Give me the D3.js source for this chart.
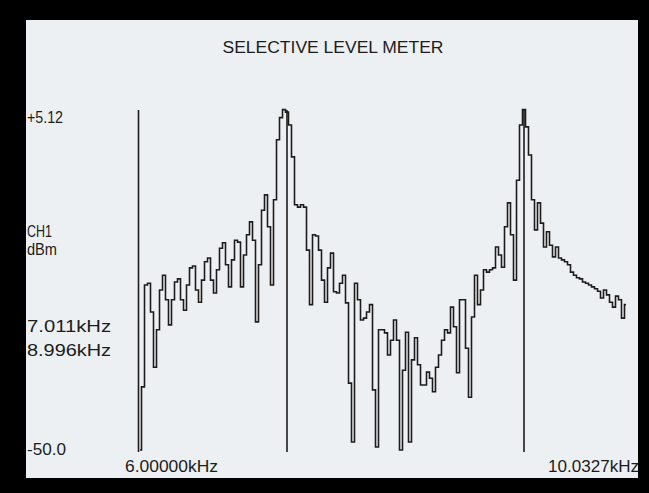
<!DOCTYPE html>
<html lang="en">
<head>
    <meta charset="UTF-8">
    <title>Selective Level Meter</title>
    <script src="https://d3js.org/d3.v7.min.js"></script>
    <style>
        body {
            margin: 0;
            padding: 0;
            background-color: #000;
            overflow: hidden;
        }
        svg text {
            font-family: "Liberation Sans", Arial, sans-serif;
            fill: #1c1c1c;
        }
    </style>
</head>
<body>
    <div id="chart"></div>

    <script>
        // level readings (dBm), one per sweep step, 6.00000kHz -> 10.0327kHz
        const levels = [
            -50.0, -39.7, -23.1, -22.8, -27.5, -36.5, -30.4, -23.9, -21.5, -25.5,
            -29.6, -25.5, -22.6, -22.1, -25.5, -27.2, -23.1, -20.3, -20.0, -23.9,
            -25.9, -22.3, -19.3, -18.7, -22.3, -24.4, -20.6, -17.1, -16.2, -19.8,
            -23.4, -19.0, -15.8, -16.1, -23.4, -18.2, -14.9, -12.8, -15.8, -29.1,
            -19.8, -10.9, -8.4, -13.6, -23.1, -9.2, 0.6, 4.2, 5.5, 5.1,
            3.0, -2.2, -10.0, -10.4, -10.0, -10.4, -17.4, -26.3, -14.9, -15.1,
            -17.4, -22.3, -25.9, -20.3, -17.9, -24.2, -24.4, -22.8, -21.5, -26.0,
            -39.1, -48.7, -22.8, -25.5, -28.8, -28.5, -27.5, -26.3, -40.2, -49.5,
            -30.4, -30.4, -30.9, -34.5, -32.1, -28.8, -32.1, -50.0, -37.0, -30.8,
            -48.7, -35.3, -31.7, -36.1, -39.4, -39.4, -37.3, -38.3, -40.5, -36.5,
            -34.5, -32.1, -30.4, -30.9, -26.7, -29.9, -37.4, -25.5, -25.5, -33.4,
            -41.4, -28.3, -21.5, -26.3, -23.9, -20.6, -21.0, -20.6, -20.3, -16.9,
            -18.2, -20.2, -13.6, -9.7, -14.9, -22.3, -6.0, 3.0, 5.5, 2.7,
            -1.9, -9.2, -14.1, -9.7, -13.0, -16.9, -14.4, -16.6, -18.5, -16.9,
            -18.7, -19.0, -19.3, -19.8, -21.0, -21.5, -21.9, -22.1, -22.6, -22.8,
            -23.1, -23.4, -23.7, -24.1, -25.2, -23.9, -24.7, -25.9, -26.7, -24.9,
            -25.5, -28.5, -26.3
        ];

        // sweep steps where the two markers sit
        const markerSteps = [49, 128];
        const markerLabels = ["7.011kHz", "8.996kHz"];

        const levelRange = [-50.0, 5.12];
        const levelLabels = ["-50.0", "+5.12"];
        const unitLabels = ["CH1", "dBm"];
        const startLabel = "6.00000kHz";
        const stopLabel = "10.0327kHz";
        const title = "SELECTIVE LEVEL METER";

        const width = 649;
        const height = 493;

        const svg = d3.select("#chart")
            .append("svg")
            .attr("width", width)
            .attr("height", height);

        // screen face
        svg.append("rect")
            .attr("x", 26)
            .attr("y", 20)
            .attr("width", 612)
            .attr("height", 458)
            .attr("fill", "#edf0f2");

        const x = d3.scaleLinear()
            .domain([0, levels.length - 1])
            .range([140, 626]);

        const y = d3.scaleLinear()
            .domain(levelRange)
            .range([450, 112]);

        const lineTop = y(levelRange[1]) - 2;
        const lineBottom = y(levelRange[0]) + 2;

        // left edge of the trace window
        svg.append("line")
            .attr("x1", x(0) - 1.5).attr("x2", x(0) - 1.5)
            .attr("y1", lineTop).attr("y2", lineBottom)
            .attr("stroke", "#1c1c1c")
            .attr("stroke-width", 1.6);

        // marker lines
        svg.selectAll(".marker")
            .data(markerSteps)
            .join("line")
            .attr("class", "marker")
            .attr("x1", d => x(d)).attr("x2", d => x(d))
            .attr("y1", lineTop).attr("y2", lineBottom)
            .attr("stroke", "#1c1c1c")
            .attr("stroke-width", 1.6);

        // trace
        const line = d3.line()
            .x((d, i) => x(i))
            .y(d => y(d))
            .curve(d3.curveStep);

        svg.append("path")
            .datum(levels)
            .attr("d", line)
            .attr("fill", "none")
            .attr("stroke", "#1c1c1c")
            .attr("stroke-width", 1.6)
            .attr("stroke-linejoin", "miter");

        // title
        svg.append("text")
            .attr("x", 333)
            .attr("y", 53)
            .attr("text-anchor", "middle")
            .attr("textLength", 221)
            .attr("lengthAdjust", "spacingAndGlyphs")
            .style("font-size", "16px")
            .text(title);

        // level labels
        svg.append("text")
            .attr("x", 27)
            .attr("y", y(levelRange[1]) + 11)
            .attr("textLength", 36)
            .attr("lengthAdjust", "spacingAndGlyphs")
            .style("font-size", "16px")
            .text(levelLabels[1]);

        svg.append("text")
            .attr("x", 27)
            .attr("y", y(levelRange[0]) + 5)
            .attr("textLength", 39)
            .attr("lengthAdjust", "spacingAndGlyphs")
            .style("font-size", "16px")
            .text(levelLabels[0]);

        // channel and unit
        svg.selectAll(".unit")
            .data(unitLabels)
            .join("text")
            .attr("class", "unit")
            .attr("x", 27)
            .attr("y", (d, i) => 237 + i * 18)
            .attr("textLength", (d, i) => [25, 30][i])
            .attr("lengthAdjust", "spacingAndGlyphs")
            .style("font-size", "16px")
            .text(d => d);

        // marker frequency readouts
        svg.selectAll(".mlabel")
            .data(markerLabels)
            .join("text")
            .attr("class", "mlabel")
            .attr("x", 27)
            .attr("y", (d, i) => 332 + i * 24)
            .attr("textLength", 84)
            .attr("lengthAdjust", "spacingAndGlyphs")
            .style("font-size", "16px")
            .text(d => d);

        // sweep start / stop
        svg.append("text")
            .attr("x", 125)
            .attr("y", 472)
            .attr("textLength", 93)
            .attr("lengthAdjust", "spacingAndGlyphs")
            .style("font-size", "16px")
            .text(startLabel);

        svg.append("text")
            .attr("x", 548)
            .attr("y", 472)
            .attr("textLength", 91)
            .attr("lengthAdjust", "spacingAndGlyphs")
            .style("font-size", "16px")
            .text(stopLabel);
    </script>
</body>
</html>
